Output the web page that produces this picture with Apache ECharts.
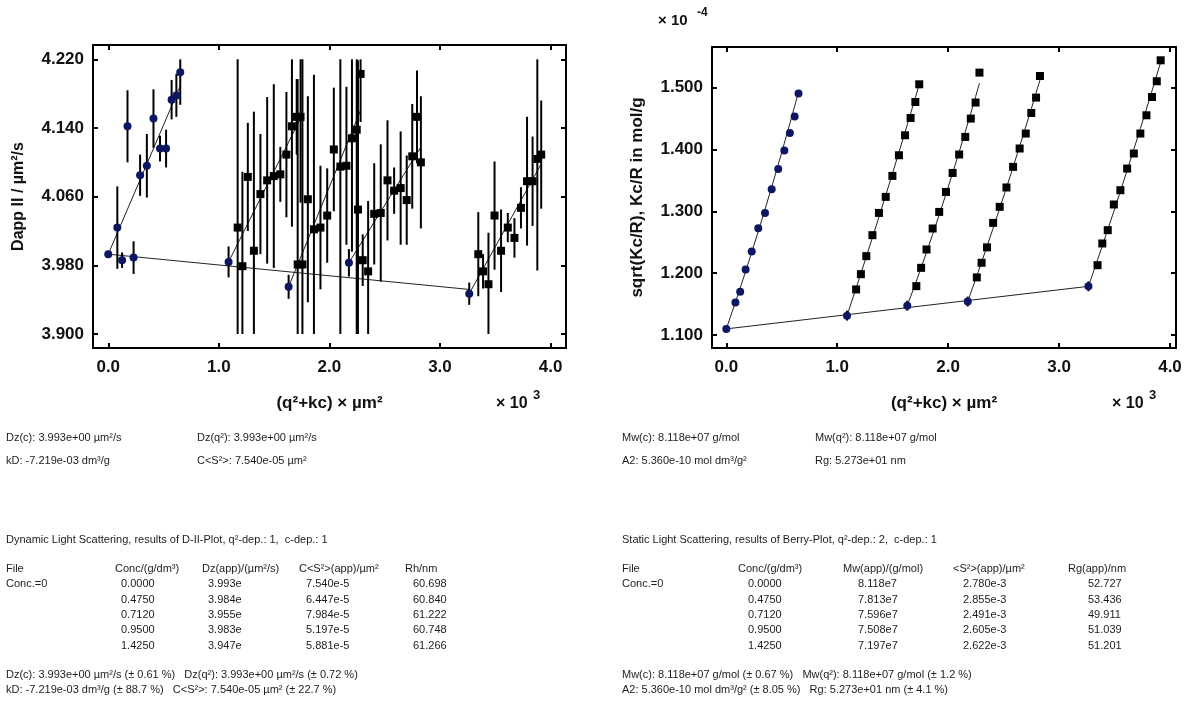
<!DOCTYPE html>
<html>
<head>
<meta charset="utf-8">
<script src="https://cdn.jsdelivr.net/npm/echarts@6/dist/echarts.min.js"></script>
<style>
  html, body { margin: 0; padding: 0; background: #fff; }
  #chart { width: 1188px; height: 702px; }
</style>
</head>
<body>
<div id="chart"></div>
<script>
// ---------- measurement grid ----------
// q² of the 12 detector angles (×10³ µm⁻²)
const Q2 = [0.082, 0.125, 0.174, 0.229, 0.288, 0.349, 0.409, 0.468, 0.523, 0.573, 0.616, 0.651];
// concentrations, g/dm³ (first entry = extrapolation c→0)
const CONC = [0.0, 0.475, 0.712, 0.95, 1.425];
// k of the (q² + kc) abscissa, ×10³ µm⁻² per g/dm³
const K_FACTOR = 2.291;

const X_TICKS = [0, 1, 2, 3, 4];
const DLS_Y_TICKS = [3.90, 3.98, 4.06, 4.14, 4.22];
const SLS_Y_TICKS = [1.1, 1.2, 1.3, 1.4, 1.5];

// ---------- dynamic light scattering (D-II plot) ----------
const dlsDzApp = [3.993, 3.984, 3.955, 3.983, 3.947];           // µm²/s
const dlsCs2App = [7.540e-5, 6.447e-5, 7.984e-5, 5.197e-5, 5.881e-5]; // µm²
const dlsRh = [60.698, 60.840, 61.222, 60.748, 61.266];          // nm
const dlsDz0 = 3.993;
const dlsKd = -7.219e-3;                                          // dm³/g
const dlsDzAppErr = [0, 0.018, 0.014, 0.016, 0.013];

// Dapp per angle: c→0 extrapolation, then each concentration
const dlsD_c0 = [4.024, 3.986, 4.142, 3.989, 4.085, 4.096, 4.151, 4.116, 4.116, 4.173, 4.178, 4.205];
const dlsE_c0 = [0.048, 0.009, 0.042, 0.019, 0.024, 0.037, 0.034, 0.015, 0.022, 0.023, 0.025, 0.038];
const dlsD_c1 = [4.024, 3.979, 4.083, 3.997, 4.063, 4.079, 4.084, 4.086, 4.109, 4.142, 4.153, 4.153];
const dlsE_c1 = [0.21, 0.11, 0.063, 0.162, 0.07, 0.097, 0.107, 0.032, 0.073, 0.117, 0.044, 0.10];
const dlsD_c2 = [3.981, 3.981, 4.057, 4.022, 4.024, 4.038, 4.115, 4.095, 4.096, 4.128, 4.138, 4.203];
const dlsE_c2 = [0.216, 0.25, 0.12, 0.18, 0.072, 0.055, 0.072, 0.25, 0.092, 0.132, 0.25, 0.056];
const dlsD_c3 = [4.045, 3.986, 3.973, 4.040, 4.041, 4.079, 4.067, 4.070, 4.056, 4.107, 4.153, 4.100];
const dlsE_c3 = [0.174, 0.03, 0.082, 0.059, 0.080, 0.070, 0.027, 0.066, 0.052, 0.061, 0.054, 0.077];
const dlsD_c4 = [3.993, 3.973, 3.958, 4.038, 3.997, 4.024, 4.012, 4.047, 4.078, 4.078, 4.104, 4.109];
const dlsE_c4 = [0.049, 0.02, 0.06, 0.063, 0.048, 0.017, 0.023, 0.024, 0.075, 0.052, 0.13, 0.063];

// ---------- static light scattering (Berry plot, ×10⁻⁴) ----------
const slsMwApp = [8.118e7, 7.813e7, 7.596e7, 7.508e7, 7.197e7];  // g/mol
const slsS2App = [2.780e-3, 2.855e-3, 2.491e-3, 2.605e-3, 2.622e-3]; // µm²
const slsRgApp = [52.727, 53.436, 49.911, 51.039, 51.201];       // nm
const slsMw0 = 8.118e7;
const slsA2 = 5.360e-10;                                          // mol dm³/g²
const slsFitEnd = [1.493, 1.505, 1.507, 1.512, 1.541];           // fit value at largest q²
const slsAppErr = [0, 0.008, 0.008, 0.008, 0.008];

const slsK_c0 = [1.1527, 1.1698, 1.2060, 1.2350, 1.2727, 1.2974, 1.3357, 1.3685, 1.3982, 1.4267, 1.4531, 1.4903];
const slsK_c1 = [1.1737, 1.1984, 1.2275, 1.2614, 1.2974, 1.3233, 1.3572, 1.3906, 1.4229, 1.4509, 1.4767, 1.5053];
const slsK_c2 = [1.1790, 1.2086, 1.2383, 1.2722, 1.2990, 1.3313, 1.3620, 1.3918, 1.4202, 1.4499, 1.4758, 1.5242];
const slsK_c3 = [1.1931, 1.2168, 1.2417, 1.2813, 1.3072, 1.3385, 1.3718, 1.4015, 1.4257, 1.4590, 1.4838, 1.5187];
const slsK_c4 = [1.2129, 1.2480, 1.2695, 1.3110, 1.3341, 1.3691, 1.3934, 1.4257, 1.4552, 1.4848, 1.5102, 1.5441];

// ---------- assembly ----------
const FONT = '"Liberation Sans", Arial, Helvetica, sans-serif';
const NAVY = '#0d1660';
const dlsD = [dlsD_c0, dlsD_c1, dlsD_c2, dlsD_c3, dlsD_c4];
const dlsE = [dlsE_c0, dlsE_c1, dlsE_c2, dlsE_c3, dlsE_c4];
const slsK = [slsK_c0, slsK_c1, slsK_c2, slsK_c3, slsK_c4];
const kc = CONC.map(c => K_FACTOR * c);
const qMax = Q2[Q2.length - 1];
const cMax = CONC[CONC.length - 1];

// D-II plot: error bars clipped to the tick range
const dlsLo = DLS_Y_TICKS[0], dlsHi = DLS_Y_TICKS[DLS_Y_TICKS.length - 1];
const clipBar = (x, v, e) => [x, Math.max(v - e, dlsLo), Math.min(v + e, dlsHi)];
const dlsBars = [];
dlsD.forEach((arr, g) => arr.forEach((v, j) => dlsBars.push(clipBar(kc[g] + Q2[j], v, dlsE[g][j]))));
for (let g = 1; g < CONC.length; g++) dlsBars.push(clipBar(kc[g], dlsDzApp[g], dlsDzAppErr[g]));

const dlsSquares = [];
for (let g = 1; g < CONC.length; g++) dlsD[g].forEach((v, j) => dlsSquares.push([kc[g] + Q2[j], v]));
const dlsCircles = [[0, dlsDz0]].concat(
  dlsD_c0.map((v, j) => [Q2[j], v]),
  CONC.slice(1).map((c, i) => [kc[i + 1], dlsDzApp[i + 1]])
);
// straight fits: Dapp = Dz(app)·(1 + C<S²>·q²), Dz(c) = Dz·(1 + kD·c)
const dlsFits = CONC.map((c, g) => [[kc[g], dlsDzApp[g]], [kc[g] + qMax, dlsDzApp[g] * (1 + dlsCs2App[g] * qMax * 1000)]]);
const dlsCLine = [[0, dlsDz0], [kc[kc.length - 1], dlsDz0 * (1 + dlsKd * cMax)]];

// Berry plot
const slsA = slsMwApp.map(m => 1e4 / Math.sqrt(m));
const slsSquares = [];
for (let g = 1; g < CONC.length; g++) slsK[g].forEach((v, j) => slsSquares.push([kc[g] + Q2[j], v]));
const slsCircles = [[0, slsA[0]]].concat(
  slsK_c0.map((v, j) => [Q2[j], v]),
  CONC.slice(1).map((c, i) => [kc[i + 1], slsA[i + 1]])
);
const slsBars = CONC.slice(1).map((c, i) => [kc[i + 1], slsA[i + 1] - slsAppErr[i + 1], slsA[i + 1] + slsAppErr[i + 1]]);
// second-order q² fits: initial slope from <S²>, curvature set by the end value
const slsFits = CONC.map((c, g) => {
  const a = slsA[g], s = a * slsS2App[g] * 1000 / 6;
  const b = (slsFitEnd[g] - a - s * qMax) / (qMax * qMax);
  return [0].concat(Q2).map(q => [kc[g] + q, a + s * q + b * q * q]);
});
const slsCLine = [[0, slsA[0]], [kc[kc.length - 1], slsA[0] * (1 + slsA2 * slsMw0 * cMax)]];

// ---------- axes ----------
function valAxis(o) {
  return {
    type: 'value', gridIndex: o.grid, position: o.pos, min: o.min, max: o.max,
    name: o.name || '', nameLocation: 'middle', nameGap: o.nameGap || 0,
    nameTextStyle: { fontFamily: FONT, fontWeight: 'bold', fontSize: o.nameSize || 16, color: '#111' },
    axisLine: { show: true, onZero: false, lineStyle: { color: '#000', width: 2 } },
    axisTick: { show: true, inside: true, length: 5, customValues: o.ticks, lineStyle: { color: '#000', width: 2 } },
    axisLabel: {
      show: !!o.label, customValues: o.ticks, margin: o.margin || 8,
      formatter: v => v.toFixed(o.dec), color: '#111',
      fontFamily: FONT, fontWeight: 'bold', fontSize: 17
    },
    splitLine: { show: false }
  };
}

const xAxis = [
  valAxis({ grid: 0, pos: 'bottom', min: -0.138, max: 4.14, ticks: X_TICKS, label: true, dec: 1, margin: 11,
            name: '(q²+kc) × µm²', nameGap: 47, nameSize: 17 }),
  valAxis({ grid: 0, pos: 'top', min: -0.138, max: 4.14, ticks: X_TICKS, dec: 1 }),
  valAxis({ grid: 1, pos: 'bottom', min: -0.129, max: 4.054, ticks: X_TICKS, label: true, dec: 1, margin: 11,
            name: '(q²+kc) × µm²', nameGap: 47, nameSize: 17 }),
  valAxis({ grid: 1, pos: 'top', min: -0.129, max: 4.054, ticks: X_TICKS, dec: 1 })
];
const yAxis = [
  valAxis({ grid: 0, pos: 'left', min: 3.8837, max: 4.2367, ticks: DLS_Y_TICKS, label: true, dec: 3, margin: 9,
            name: 'Dapp II / µm²/s', nameGap: 66 }),
  valAxis({ grid: 0, pos: 'right', min: 3.8837, max: 4.2367, ticks: DLS_Y_TICKS, dec: 3 }),
  valAxis({ grid: 1, pos: 'left', min: 1.079, max: 1.5656, ticks: SLS_Y_TICKS, label: true, dec: 3, margin: 9,
            name: 'sqrt(Kc/R), Kc/R in mol/g', nameGap: 66, nameSize: 17 }),
  valAxis({ grid: 1, pos: 'right', min: 1.079, max: 1.5656, ticks: SLS_Y_TICKS, dec: 3 })
];

// ---------- series ----------
function errorBars(data, xi, yi) {
  return {
    type: 'custom', xAxisIndex: xi, yAxisIndex: yi, data: data, z: 3, clip: false, silent: true,
    renderItem: (params, api) => {
      const p1 = api.coord([api.value(0), api.value(1)]);
      const p2 = api.coord([api.value(0), api.value(2)]);
      return { type: 'line', shape: { x1: p1[0], y1: p1[1], x2: p2[0], y2: p2[1] },
               style: { stroke: '#000', lineWidth: 2 } };
    }
  };
}
function fitLine(data, xi, yi) {
  return { type: 'line', xAxisIndex: xi, yAxisIndex: yi, data: data, showSymbol: false, symbol: 'none',
           lineStyle: { color: '#222', width: 1 }, z: 2, silent: true, animation: false };
}
function marks(data, xi, yi, symbol, color, size) {
  return { type: 'scatter', xAxisIndex: xi, yAxisIndex: yi, data: data, symbol: symbol, symbolSize: size,
           itemStyle: { color: color, opacity: 1 }, z: 4, silent: true };
}

const series = [
  errorBars(dlsBars, 0, 0),
  fitLine(dlsCLine, 0, 0),
  ...dlsFits.map(d => fitLine(d, 0, 0)),
  marks(dlsSquares, 0, 0, 'rect', '#000', 8),
  marks(dlsCircles, 0, 0, 'circle', NAVY, 8),

  errorBars(slsBars, 2, 2),
  fitLine(slsCLine, 2, 2),
  ...slsFits.map(d => fitLine(d, 2, 2)),
  marks(slsSquares, 2, 2, 'rect', '#000', 8),
  marks(slsCircles, 2, 2, 'circle', NAVY, 8)
];

// ---------- text blocks ----------
const TXT = '#1c1c1c';
function txt(x, y, s, extra) {
  return { type: 'text', x: x, y: y, silent: true,
           style: Object.assign({ text: s, fill: TXT, font: '11px ' + FONT, textVerticalAlign: 'middle' }, extra || {}) };
}
const big = (x, y, s, size) => txt(x, y, s, { font: 'bold ' + size + 'px ' + FONT, fill: '#111' });

const ROW_Y = [584, 600, 615, 630, 646];
const g = [];
// exponent markers
g.push(big(496, 404, '× 10', 16), big(533, 395, '3', 13));
g.push(big(1112, 404, '× 10', 16), big(1149, 395, '3', 13));
g.push(big(658, 21, '× 10', 15), big(697, 13, '-4', 12));

// DLS results
g.push(txt(6, 438, 'Dz(c): 3.993e+00 µm²/s'), txt(197, 438, 'Dz(q²): 3.993e+00 µm²/s'));
g.push(txt(6, 461, 'kD: -7.219e-03 dm³/g'), txt(197, 461, 'C<S²>: 7.540e-05 µm²'));
g.push(txt(6, 540, 'Dynamic Light Scattering, results of D-II-Plot, q²-dep.: 1,  c-dep.: 1'));
g.push(txt(6, 569, 'File'), txt(115, 569, 'Conc/(g/dm³)'), txt(202, 569, 'Dz(app)/(µm²/s)'),
       txt(299, 569, 'C<S²>(app)/µm²'), txt(405, 569, 'Rh/nm'));
g.push(txt(6, ROW_Y[0], 'Conc.=0'));
CONC.forEach((c, i) => {
  g.push(txt(121, ROW_Y[i], c.toFixed(4)), txt(208, ROW_Y[i], dlsDzApp[i].toFixed(3) + 'e'),
         txt(306, ROW_Y[i], dlsCs2App[i].toExponential(3)), txt(413, ROW_Y[i], dlsRh[i].toFixed(3)));
});
g.push(txt(6, 675, 'Dz(c): 3.993e+00 µm²/s (± 0.61 %)   Dz(q²): 3.993e+00 µm²/s (± 0.72 %)'));
g.push(txt(6, 690, 'kD: -7.219e-03 dm³/g (± 88.7 %)   C<S²>: 7.540e-05 µm² (± 22.7 %)'));

// SLS results
g.push(txt(622, 438, 'Mw(c): 8.118e+07 g/mol'), txt(815, 438, 'Mw(q²): 8.118e+07 g/mol'));
g.push(txt(622, 461, 'A2: 5.360e-10 mol dm³/g²'), txt(815, 461, 'Rg: 5.273e+01 nm'));
g.push(txt(622, 540, 'Static Light Scattering, results of Berry-Plot, q²-dep.: 2,  c-dep.: 1'));
g.push(txt(622, 569, 'File'), txt(738, 569, 'Conc/(g/dm³)'), txt(843, 569, 'Mw(app)/(g/mol)'),
       txt(953, 569, '<S²>(app)/µm²'), txt(1068, 569, 'Rg(app)/nm'));
g.push(txt(622, ROW_Y[0], 'Conc.=0'));
CONC.forEach((c, i) => {
  g.push(txt(748, ROW_Y[i], c.toFixed(4)), txt(858, ROW_Y[i], slsMwApp[i].toExponential(3).replace('+', '')),
         txt(963, ROW_Y[i], slsS2App[i].toExponential(3)), txt(1088, ROW_Y[i], slsRgApp[i].toFixed(3)));
});
g.push(txt(622, 675, 'Mw(c): 8.118e+07 g/mol (± 0.67 %)   Mw(q²): 8.118e+07 g/mol (± 1.2 %)'));
g.push(txt(622, 690, 'A2: 5.360e-10 mol dm³/g² (± 8.05 %)   Rg: 5.273e+01 nm (± 4.1 %)'));

const chart = echarts.init(document.getElementById('chart'));
chart.setOption({
  animation: false,
  backgroundColor: '#fff',
  grid: [
    { left: 93, top: 45, width: 473, height: 303 },
    { left: 712, top: 47, width: 464, height: 301 }
  ],
  xAxis: xAxis,
  yAxis: yAxis,
  series: series,
  graphic: g
});
</script>
</body>
</html>
